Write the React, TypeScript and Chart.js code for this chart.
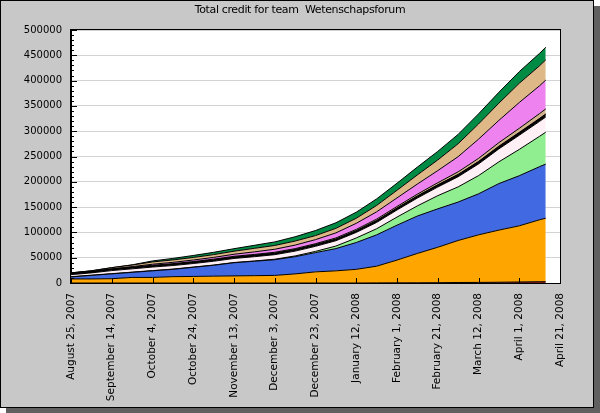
import React, { useEffect, useRef } from "react";
import { Chart, registerables } from "chart.js";

Chart.register(...registerables);

const TITLE = "Total credit for team  Wetenschapsforum";
const MONTHS = ["January", "February", "March", "April", "May", "June", "July", "August", "September", "October", "November", "December"];

// days since August 25, 2007
const days = [0, 10, 20, 30, 40, 50, 60, 70, 80, 90, 100, 110, 120, 130, 140, 150, 160, 170, 180, 190, 200, 210, 220, 230, 233];

const darkRed = [0, 0, 0, 0, 0, 0, 0, 0, 0, 0, 0, 0, 0, 0, 0, 200, 300, 400, 600, 1000, 1200, 1500, 2000, 2500, 2500];
const orange = [8000, 8000, 8500, 11000, 11000, 12500, 13000, 13500, 14000, 14500, 15000, 18000, 22000, 24000, 27000, 33000, 45000, 58000, 70000, 83000, 94000, 103000, 111000, 122500, 125500];
const blue = [4000, 7000, 9500, 10000, 13000, 14500, 18000, 21500, 26000, 28500, 31000, 34000, 38000, 44000, 53000, 62000, 69000, 74000, 76000, 76000, 81000, 92000, 99000, 105000, 107000];
const lightGreen = [500, 500, 500, 500, 500, 500, 500, 500, 500, 500, 1000, 1500, 2500, 5000, 9000, 12000, 16000, 20000, 26000, 30000, 36000, 43000, 52000, 60000, 63000];
const lavender = [4000, 4500, 6000, 6500, 7000, 7000, 7000, 7500, 8000, 8500, 9000, 9500, 10000, 10500, 11000, 12500, 14000, 15500, 17000, 20000, 23000, 25500, 28000, 29500, 30000];
const blackBand = [2000, 2000, 2100, 2100, 2200, 2300, 2300, 2400, 2500, 2600, 2700, 2800, 3000, 3100, 3200, 3400, 3500, 3700, 3900, 4000, 4200, 4500, 4700, 4900, 5000];
const orangeRed = [200, 200, 200, 200, 200, 200, 200, 200, 200, 200, 200, 200, 200, 200, 200, 300, 400, 500, 600, 700, 800, 900, 1000, 1000, 1000];
const tan = [800, 900, 1000, 1100, 1200, 1300, 1400, 1500, 1600, 1700, 1800, 1900, 2000, 2200, 2500, 2800, 3000, 3500, 4000, 5000, 6000, 7000, 8000, 9500, 10000];
const violet = [0, 0, 0, 1000, 2000, 2500, 3000, 3500, 4000, 5000, 6000, 7000, 8000, 10000, 12000, 14500, 17000, 20000, 24000, 30000, 38000, 44000, 51000, 55000, 57000];
const burlywood = [500, 1000, 2500, 3000, 4500, 4800, 5000, 5500, 6000, 7000, 7500, 8000, 8000, 9000, 10000, 12500, 15000, 18000, 21000, 25500, 30000, 34000, 38000, 39500, 40000];
const green = [0, 0, 0, 500, 2000, 3000, 4000, 4500, 5000, 6000, 7000, 8500, 10000, 11000, 12000, 13000, 14000, 15500, 17000, 18500, 20000, 21500, 23000, 24500, 25000];

const seriesValues = [darkRed, orange, blue, lightGreen, lavender, blackBand, orangeRed, tan, violet, burlywood, green];
const seriesColors = ["#8b1a1a", "#ffa500", "#4169e1", "#90ee90", "#fff0f5", "#000000", "#ff4500", "#d2b48c", "#ee82ee", "#deb887", "#008b45"];

const yTicks = [0, 50000, 100000, 150000, 200000, 250000, 300000, 350000, 400000, 450000, 500000];

function formatDay(v: number): string {
  const d = new Date(2007, 7, 25 + Math.round(v));
  return `${MONTHS[d.getMonth()]} ${d.getDate()}, ${d.getFullYear()}`;
}

const framePlugin = {
  id: "frame",
  beforeDraw(chart: any) {
    const ctx = chart.ctx;
    const { left, top, right, bottom } = chart.chartArea;
    ctx.save();
    ctx.fillStyle = "#606060";
    ctx.fillRect(6, 6, 594, 407);
    ctx.fillStyle = "#c8c8c8";
    ctx.fillRect(0, 0, 594, 408);
    ctx.strokeStyle = "#000";
    ctx.lineWidth = 1;
    ctx.strokeRect(0.5, 0.5, 593, 407);
    ctx.fillStyle = "#ffffff";
    ctx.fillRect(left, top, right - left, bottom - top);
    ctx.fillStyle = "#000";
    ctx.font = '11px "DejaVu Sans"';
    try { (ctx as any).letterSpacing = "-0.35px"; } catch (e) {}
    ctx.textAlign = "center";
    ctx.textBaseline = "alphabetic";
    ctx.fillText(TITLE, 300, 13);
    try { (ctx as any).letterSpacing = "0px"; } catch (e) {}
    ctx.restore();
  },
  afterDatasetsDraw(chart: any) {
    const ctx = chart.ctx;
    const { left, top, right, bottom } = chart.chartArea;
    const ys = chart.scales.y;
    const xs = chart.scales.x;
    ctx.save();
    ctx.strokeStyle = "#000";
    ctx.lineWidth = 1;
    ctx.beginPath();
    for (let v = 0; v <= 500000; v += 10000) {
      const y = Math.round(ys.getPixelForValue(v)) + 0.5;
      const len = v % 50000 === 0 ? 6 : 3;
      ctx.moveTo(left, y);
      ctx.lineTo(left + len, y);
    }
    for (let d = 0; d <= 240; d += 20) {
      const x = Math.round(xs.getPixelForValue(d)) + 0.5;
      ctx.moveTo(x, bottom);
      ctx.lineTo(x, bottom - 5);
    }
    ctx.stroke();
    ctx.strokeRect(Math.round(left) - 0.5, Math.round(top) - 0.5, Math.round(right - left) + 1, Math.round(bottom - top) + 1);
    ctx.restore();
  },
};

export default function App() {
  const ref = useRef<HTMLCanvasElement | null>(null);
  useEffect(() => {
    document.body.style.margin = "0";
    const canvas = ref.current;
    if (!canvas) return;
    const datasets = seriesValues.map((vals, i) => ({
      label: "s" + i,
      data: days.map((d, j) => ({ x: d, y: vals[j] })),
      backgroundColor: seriesColors[i],
      borderColor: "#000000",
      borderWidth: 1,
      pointRadius: 0,
      tension: 0,
      fill: i === 0 ? "origin" : "-1",
    }));
    const chart = new Chart(canvas, {
      type: "line",
      data: { datasets },
      options: {
        responsive: false,
        animation: false,
        events: [],
        layout: { padding: { top: 30, right: 40, left: 0, bottom: 0 } },
        plugins: {
          legend: { display: false },
          title: { display: false },
          tooltip: { enabled: false },
          filler: { propagate: false },
        },
        scales: {
          x: {
            type: "linear",
            min: 0,
            max: 240,
            afterFit: (s: any) => { s.height = 130; },
            afterBuildTicks: (s: any) => {
              const t = [];
              for (let d = 0; d <= 240; d += 20) t.push({ value: d });
              s.ticks = t;
            },
            grid: { display: false, drawTicks: false },
            border: { display: true, color: "#000" },
            ticks: {
              autoSkip: false,
              minRotation: 90,
              maxRotation: 90,
              padding: 10,
              color: "#000",
              font: { family: "DejaVu Sans", size: 10.5 },
              callback: (v: any) => formatDay(Number(v)),
            },
          },
          y: {
            type: "linear",
            stacked: true,
            min: 0,
            max: 500000,
            afterFit: (s: any) => { s.width = 71; },
            afterBuildTicks: (s: any) => { s.ticks = yTicks.map((v) => ({ value: v })); },
            grid: { color: "#d3d3d3", drawTicks: false, lineWidth: 1 },
            border: { display: true, color: "#000" },
            ticks: {
              padding: 9,
              color: "#000",
              font: { family: "DejaVu Sans", size: 10 },
              callback: (v: any) => String(v),
            },
          },
        },
      },
      plugins: [framePlugin],
    } as any);
    return () => chart.destroy();
  }, []);
  return (
    <div style={{ position: "absolute", left: 0, top: 0, width: 600, height: 413 }}>
      <canvas ref={ref} width={600} height={413} style={{ display: "block" }} />
    </div>
  );
}
